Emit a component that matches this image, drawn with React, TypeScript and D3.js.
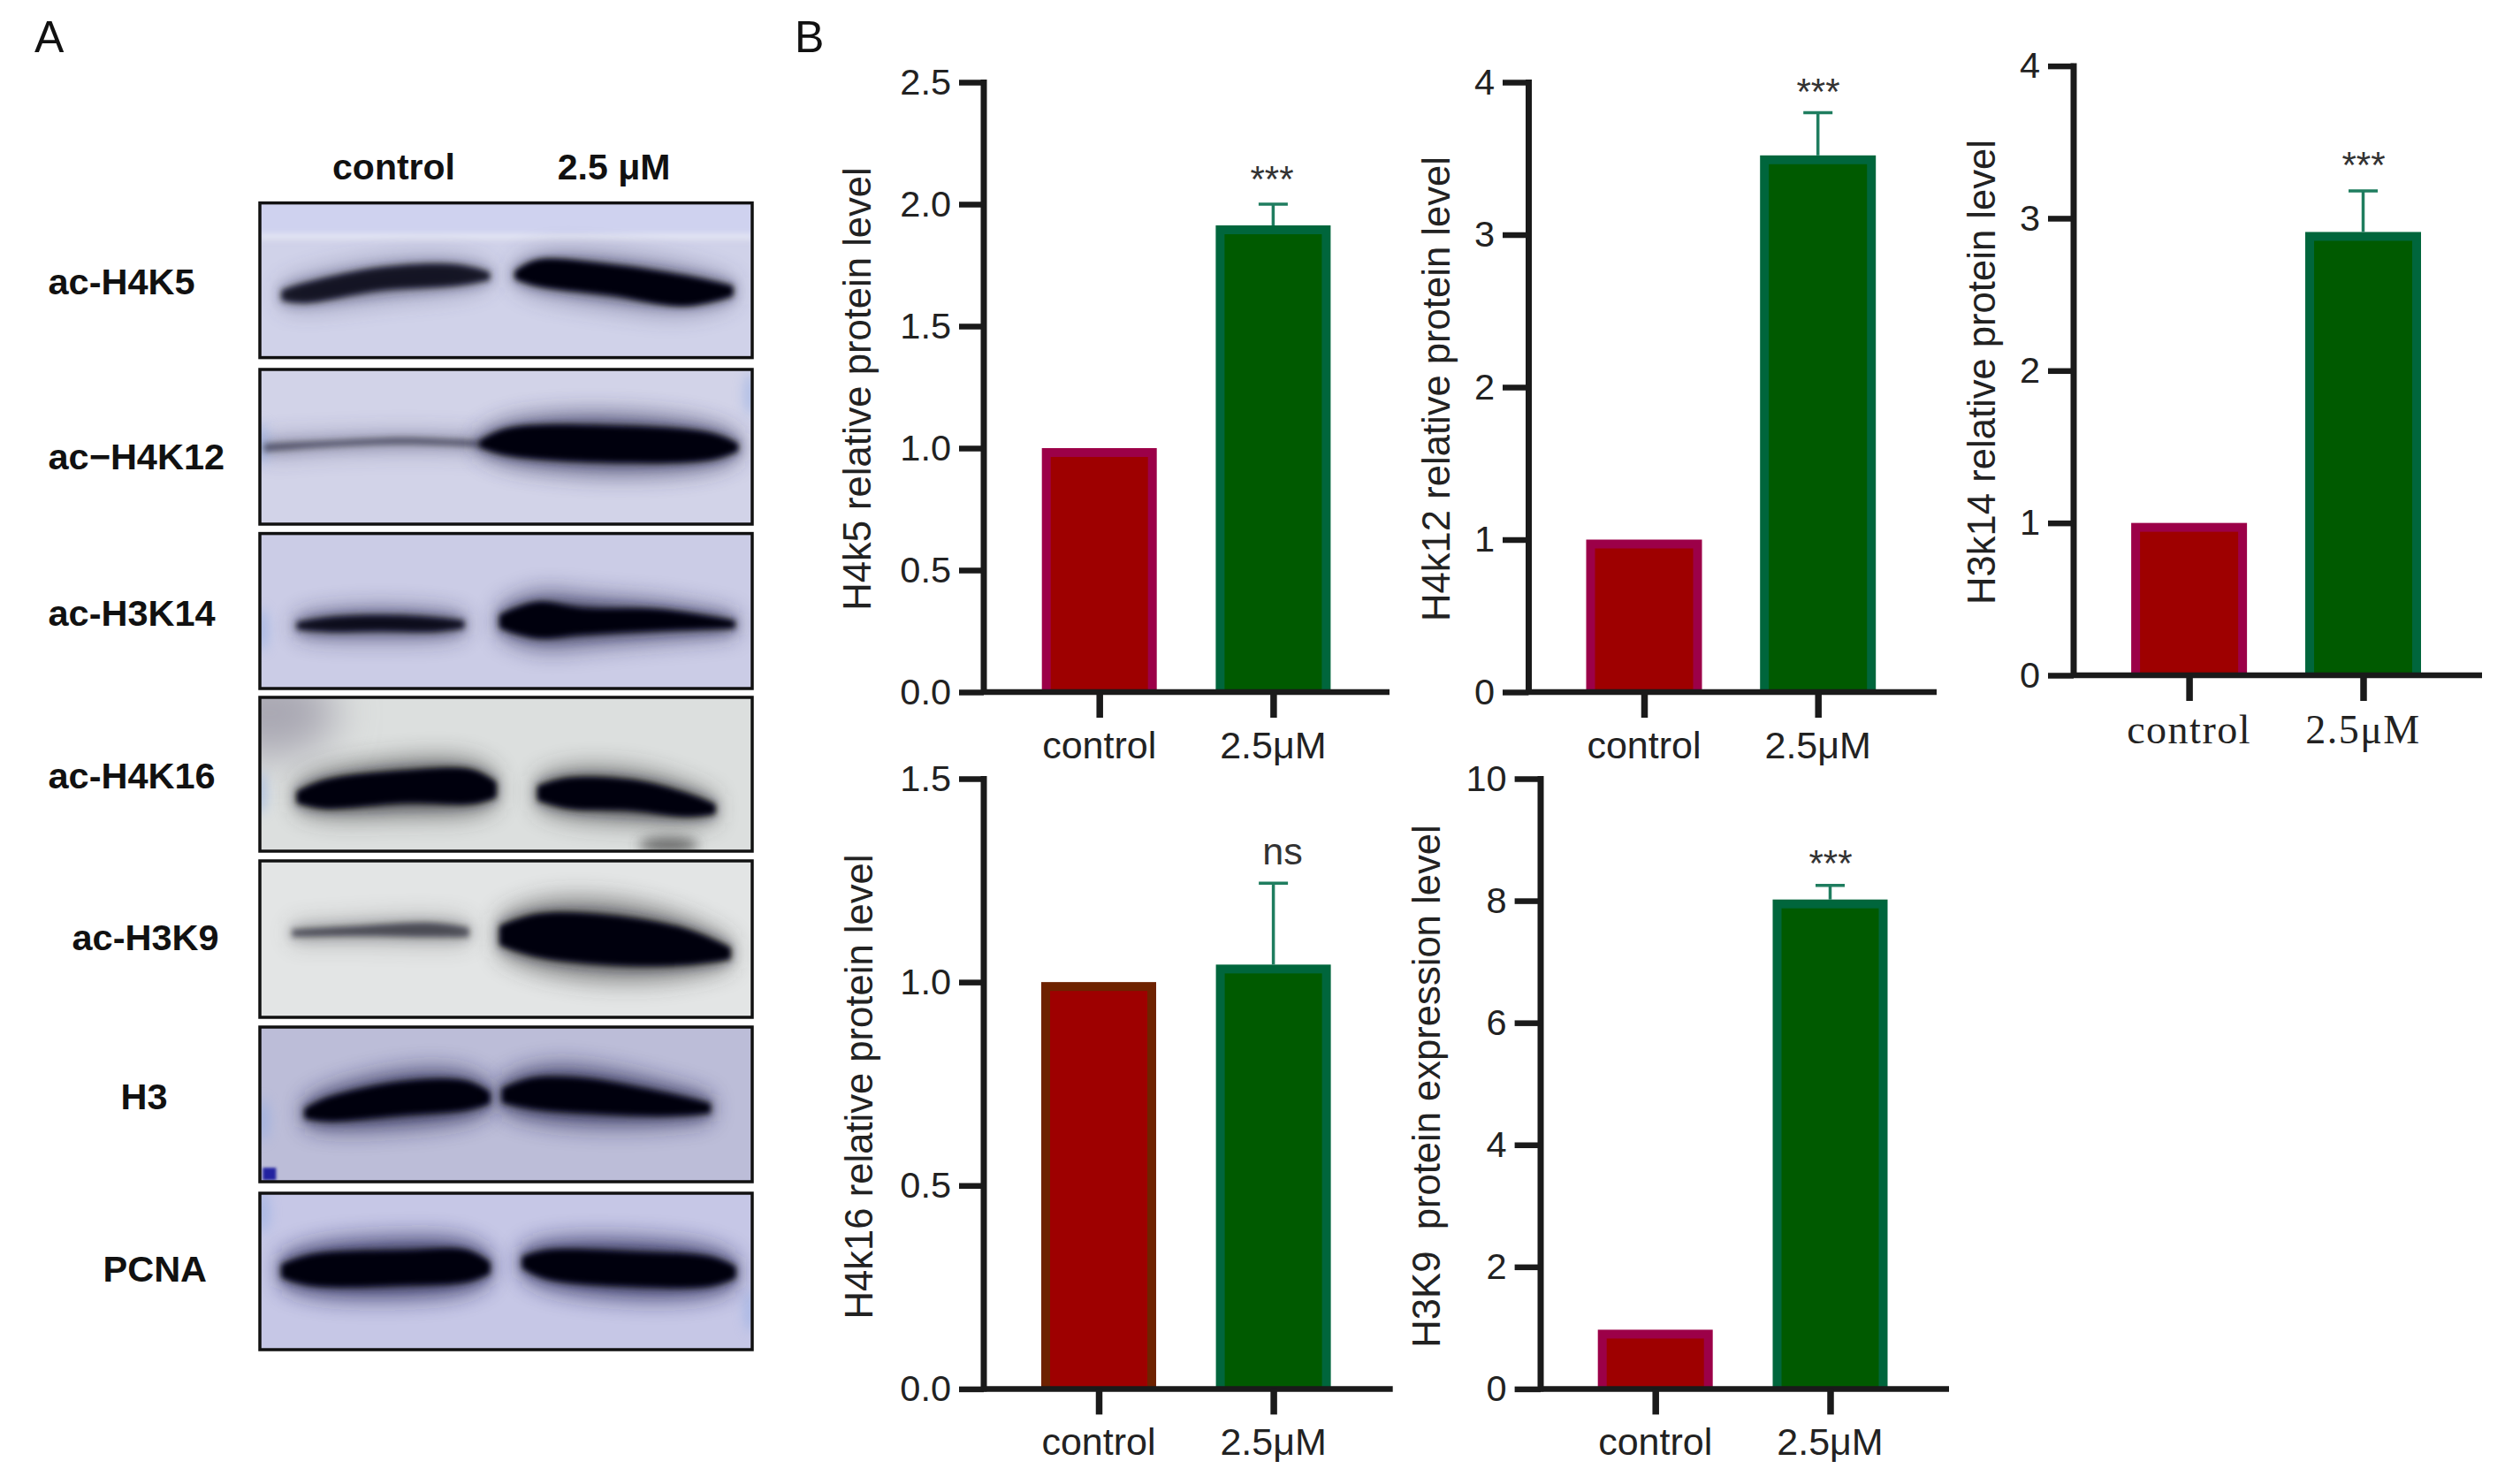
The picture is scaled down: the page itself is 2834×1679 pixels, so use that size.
import React, { useEffect, useRef } from 'react';
import * as d3 from 'd3';

const W = 2834;
const H = 1679;
const SANS = '"Liberation Sans", Arial, sans-serif';
const SERIF = '"Liberation Serif", "Times New Roman", serif';

// bar chart values
const groups = ['control', '2.5μM'];
const h4k5Values = [1.0, 1.913];
const h4k5Error = 2.0;
const h4k12Values = [1.0, 3.52];
const h4k12Error = 3.8;
const h3k14Values = [1.0, 2.91];
const h3k14Error = 3.18;
const h4k16Values = [1.0, 1.043];
const h4k16Error = 1.243;
const h3k9Values = [0.97, 8.02];
const h3k9Error = 8.25;

const ticks25 = [0, 0.5, 1, 1.5, 2, 2.5];
const ticks4 = [0, 1, 2, 3, 4];
const ticks15 = [0, 0.5, 1, 1.5];
const ticks10 = [0, 2, 4, 6, 8, 10];

const panels = [
  { title: 'H4k5 relative protein level', values: h4k5Values, err: h4k5Error, ticks: ticks25, fmt: '.1f', mark: '***',
    axisX: 1113, tickLeft: 1085, xEnd: 1572, top: 93, bottom: 783, gx: [1243.7, 1440.4], barW: 130, titleX: 984.5, titleY: 440, labelY: 858, markX: 1439, markY: 217, redEdge: '#9c0048', font: SANS },
  { title: 'H4k12 relative protein level', values: h4k12Values, err: h4k12Error, ticks: ticks4, fmt: 'd', mark: '***',
    axisX: 1729.5, tickLeft: 1700, xEnd: 2191, top: 93, bottom: 783, gx: [1860, 2056.7], barW: 131, titleX: 1640, titleY: 440, labelY: 858, markX: 2057, markY: 118, redEdge: '#9c0048', font: SANS },
  { title: 'H3k14 relative protein level', values: h3k14Values, err: h3k14Error, ticks: ticks4, fmt: 'd', mark: '***',
    axisX: 2346, tickLeft: 2317, xEnd: 2808, top: 74.6, bottom: 764, gx: [2476.6, 2673.5], barW: 131, titleX: 2256.6, titleY: 421, labelY: 841, markX: 2674, markY: 201, redEdge: '#9c0048', font: SERIF },
  { title: 'H4k16 relative protein level', values: h4k16Values, err: h4k16Error, ticks: ticks15, fmt: '.1f', mark: 'ns',
    axisX: 1113, tickLeft: 1085, xEnd: 1575.7, top: 881, bottom: 1571.4, gx: [1243, 1440.6], barW: 130, titleX: 986.5, titleY: 1229.5, labelY: 1646, markX: 1451, markY: 978, redEdge: '#6e2200', font: SANS },
  { title: 'H3K9  protein expression level', values: h3k9Values, err: h3k9Error, ticks: ticks10, fmt: 'd', mark: '***',
    axisX: 1743, tickLeft: 1713.6, xEnd: 2205, top: 881, bottom: 1571.4, gx: [1872.7, 2070.5], barW: 130, titleX: 1628.6, titleY: 1229, labelY: 1646, markX: 2071, markY: 991, redEdge: '#9c0048', font: SANS },
];

// western blot lanes: [x fraction, y fraction, half thickness fraction] inside each frame
const h4k5Control = [[0.044, 0.598, 0.03], [0.09, 0.583, 0.06], [0.246, 0.49, 0.07], [0.4, 0.466, 0.064], [0.467, 0.472, 0.023]];
const h4k5Treated = [[0.518, 0.466, 0.023], [0.564, 0.452, 0.08], [0.709, 0.496, 0.093], [0.863, 0.569, 0.093], [0.961, 0.569, 0.03]];
const h4k12Control = [[0.008, 0.506, 0.023], [0.131, 0.482, 0.018], [0.296, 0.462, 0.02], [0.451, 0.482, 0.018]];
const h4k12Treated = [[0.446, 0.482, 0.018], [0.503, 0.468, 0.082], [0.709, 0.482, 0.111], [0.915, 0.497, 0.082], [0.971, 0.503, 0.023]];
const h3k14Control = [[0.075, 0.596, 0.023], [0.142, 0.587, 0.044], [0.245, 0.578, 0.047], [0.348, 0.587, 0.044], [0.415, 0.587, 0.023]];
const h3k14Treated = [[0.487, 0.567, 0.04], [0.564, 0.558, 0.11], [0.657, 0.567, 0.08], [0.811, 0.558, 0.064], [0.965, 0.587, 0.023]];
const h4k16Control = [[0.075, 0.65, 0.035], [0.132, 0.63, 0.088], [0.297, 0.581, 0.1], [0.431, 0.581, 0.105], [0.48, 0.601, 0.047]];
const h4k16Treated = [[0.564, 0.623, 0.044], [0.626, 0.623, 0.094], [0.76, 0.638, 0.094], [0.863, 0.698, 0.073], [0.925, 0.727, 0.03]];
const h3k9Control = [[0.065, 0.462, 0.023], [0.194, 0.448, 0.029], [0.348, 0.44, 0.043], [0.425, 0.457, 0.029]];
const h3k9Treated = [[0.487, 0.477, 0.058], [0.564, 0.477, 0.13], [0.709, 0.506, 0.15], [0.863, 0.549, 0.11], [0.956, 0.592, 0.035]];
const h3Control = [[0.091, 0.56, 0.03], [0.142, 0.53, 0.073], [0.297, 0.458, 0.102], [0.42, 0.443, 0.087], [0.467, 0.458, 0.035]];
const h3Treated = [[0.492, 0.443, 0.044], [0.554, 0.429, 0.093], [0.657, 0.443, 0.105], [0.811, 0.496, 0.073], [0.915, 0.525, 0.03]];
const pcnaControl = [[0.044, 0.497, 0.04], [0.111, 0.491, 0.095], [0.297, 0.477, 0.104], [0.42, 0.465, 0.095], [0.467, 0.477, 0.035]];
const pcnaTreated = [[0.533, 0.442, 0.035], [0.585, 0.457, 0.087], [0.76, 0.486, 0.104], [0.915, 0.5, 0.087], [0.966, 0.506, 0.035]];

// pale blue patches at the membrane edges: [x fraction, y fraction]
const h4k12Tints = [[0.003, 0.48], [0.998, 0.16]];
const h3k14Tints = [[0.003, 0.62]];
const h4k16Tints = [[0.0, 0.62]];
const h3Tints = [[0.005, 0.6]];
const pcnaTints = [[0.005, 0.12], [0.998, 0.75]];

const blots = [
  { label: 'ac-H4K5', labelX: 54.5, baseline: 332.6, y0: 229.6, y1: 404.6, bg: '#d0d2e9', glow: '#30305c', glowOp: 0.35, tints: [], lanes: [[h4k5Control, 0.8], [h4k5Treated, 1]] },
  { label: 'ac−H4K12', labelX: 54.5, baseline: 530.6, y0: 418, y1: 593, bg: '#d2d3e8', glow: '#2a2a55', glowOp: 0.6, tints: h4k12Tints, lanes: [[h4k12Control, 0.45], [h4k12Treated, 1]] },
  { label: 'ac-H3K14', labelX: 54.5, baseline: 708, y0: 603.6, y1: 779, bg: '#cbcce6', glow: '#24244e', glowOp: 0.55, tints: h3k14Tints, lanes: [[h3k14Control, 0.85], [h3k14Treated, 1]] },
  { label: 'ac-H4K16', labelX: 54.5, baseline: 891.6, y0: 789, y1: 963, bg: '#dcdfde', glow: '#333', glowOp: 0.5, tints: h4k16Tints, lanes: [[h4k16Control, 1], [h4k16Treated, 1]] },
  { label: 'ac-H3K9', labelX: 81.5, baseline: 1075, y0: 974, y1: 1151, bg: '#e3e5e5', glow: '#333', glowOp: 0.5, tints: [], lanes: [[h3k9Control, 0.5], [h3k9Treated, 1]] },
  { label: 'H3', labelX: 136.6, baseline: 1255, y0: 1162, y1: 1337, bg: '#bcbdd8', glow: '#1e1e4c', glowOp: 0.6, tints: h3Tints, lanes: [[h3Control, 1], [h3Treated, 1]] },
  { label: 'PCNA', labelX: 116.5, baseline: 1450, y0: 1350, y1: 1527, bg: '#c6c7e6', glow: '#1c1c50', glowOp: 0.65, tints: pcnaTints, lanes: [[pcnaControl, 1], [pcnaTreated, 1]] },
];

const FRAME_X0 = 294;
const FRAME_X1 = 851;

function addBlur(defs, id, amount) {
  defs.append('filter').attr('id', id)
    .attr('x', '-100%').attr('y', '-150%').attr('width', '300%').attr('height', '400%')
    .append('feGaussianBlur').attr('stdDeviation', amount);
}

function drawBlots(svg) {
  const defs = svg.append('defs');
  addBlur(defs, 'speckBlur', 1.5);
  addBlur(defs, 'coreBlur', 3.2);
  addBlur(defs, 'midBlur', 7);
  addBlur(defs, 'glowBlur', 13);
  addBlur(defs, 'wideBlur', 24);

  const x = d3.scaleLinear().domain([0, 1]).range([FRAME_X0, FRAME_X1]);

  blots.forEach((b, i) => {
    const y = d3.scaleLinear().domain([0, 1]).range([b.y0, b.y1]);
    const span = b.y1 - b.y0;
    const clipId = `blot-clip-${i}`;
    defs.append('clipPath').attr('id', clipId).append('rect')
      .attr('x', x(0)).attr('y', y(0)).attr('width', x(1) - x(0)).attr('height', span);

    const g = svg.append('g').attr('clip-path', `url(#${clipId})`);
    g.append('rect').attr('x', x(0)).attr('y', y(0)).attr('width', x(1) - x(0)).attr('height', span).attr('fill', b.bg);

    // first blot: pale strip below a slightly bluer top band
    if (i === 0) {
      g.append('rect').attr('x', x(0)).attr('y', y(0)).attr('width', x(1) - x(0)).attr('height', span * 0.22).attr('fill', '#cfd2ef');
      g.append('rect').attr('x', x(0)).attr('y', y(0.2)).attr('width', x(1) - x(0)).attr('height', 6)
        .attr('fill', '#e6e8f4').attr('filter', 'url(#coreBlur)');
    }
    // dark corner on the ac-H4K16 blot, smudge below the right lane
    if (i === 3) {
      g.append('ellipse').attr('cx', x(0.02)).attr('cy', y(0.1)).attr('rx', 75).attr('ry', 50)
        .attr('fill', '#a9a7b2').attr('filter', 'url(#wideBlur)');
      g.append('ellipse').attr('cx', x(0.83)).attr('cy', y(0.96)).attr('rx', 34).attr('ry', 9)
        .attr('fill', '#444').attr('opacity', 0.75).attr('filter', 'url(#midBlur)');
    }
    b.tints.forEach((t) => {
      g.append('ellipse').attr('cx', x(t[0])).attr('cy', y(t[1])).attr('rx', 8).attr('ry', 24)
        .attr('fill', '#8aa8e4').attr('opacity', 0.5).attr('filter', 'url(#midBlur)');
    });
    // blue speck in the corner of the H3 blot
    if (i === 5) {
      g.append('rect').attr('x', x(0.006)).attr('y', y(0.91)).attr('width', 15).attr('height', 14)
        .attr('fill', '#2421a0').attr('filter', 'url(#speckBlur)');
    }

    b.lanes.forEach(([pts, strength]) => {
      const thick = (k, pad) => d3.area().curve(d3.curveBasis)
        .x((d) => x(d[0]))
        .y0((d) => y(d[1]) - d[2] * span * k - pad)
        .y1((d) => y(d[1]) + d[2] * span * k + pad);
      g.append('path').attr('d', thick(1.7, 5)(pts)).attr('fill', b.glow)
        .attr('opacity', b.glowOp * strength).attr('filter', 'url(#glowBlur)');
      g.append('path').attr('d', thick(1.2, 1)(pts)).attr('fill', '#15152c')
        .attr('opacity', 0.55 * strength).attr('filter', 'url(#midBlur)');

      const coreArea = d3.area().curve(d3.curveCatmullRom)
        .x((d) => x(d[0]))
        .y0((d) => y(d[1]) - d[2] * span * 1.05)
        .y1((d) => y(d[1]) + d[2] * span * 1.05);
      g.append('path').attr('d', coreArea(pts)).attr('fill', '#04040c')
        .attr('opacity', strength).attr('filter', 'url(#coreBlur)');
    });

    svg.append('rect').attr('x', x(0)).attr('y', y(0)).attr('width', x(1) - x(0)).attr('height', span)
      .attr('fill', 'none').attr('stroke', '#111').attr('stroke-width', 3.5);

    svg.append('text').attr('x', b.labelX).attr('y', b.baseline)
      .attr('font-family', SANS).attr('font-weight', 700).attr('font-size', 41.5).attr('fill', '#111')
      .text(b.label);
  });

  const header = svg.append('g').attr('font-family', SANS).attr('font-weight', 700).attr('font-size', 41)
    .attr('fill', '#111').attr('text-anchor', 'middle');
  header.append('text').attr('x', 445.5).attr('y', 202.5).text('control');
  header.append('text').attr('x', 694.6).attr('y', 202.5).text('2.5 μM');
}

function drawPanel(svg, p) {
  const g = svg.append('g');
  const y = d3.scaleLinear().domain(d3.extent(p.ticks)).range([p.bottom, p.top]);
  const x = d3.scalePoint().domain(groups).range(p.gx);
  const ink = '#1a1a1a';

  // bars: border colour underneath, fill inset
  const inset = 10;
  const bars = g.selectAll('g.bar').data(p.values).enter().append('g').attr('class', 'bar');
  bars.append('rect')
    .attr('x', (d, i) => x(groups[i]) - p.barW / 2)
    .attr('y', (d) => y(d))
    .attr('width', p.barW)
    .attr('height', (d) => y(0) - y(d))
    .attr('fill', (d, i) => (i === 0 ? p.redEdge : '#00663c'));
  bars.append('rect')
    .attr('x', (d, i) => x(groups[i]) - p.barW / 2 + inset)
    .attr('y', (d) => y(d) + inset)
    .attr('width', p.barW - inset * 2)
    .attr('height', (d) => y(0) - y(d) - inset)
    .attr('fill', (d, i) => (i === 0 ? '#9e0000' : '#005a00'));

  // error bar on the treated group
  const cx = x(groups[1]);
  const errColor = '#1f7d5f';
  g.append('line').attr('x1', cx).attr('x2', cx).attr('y1', y(p.values[1])).attr('y2', y(p.err))
    .attr('stroke', errColor).attr('stroke-width', 3.5);
  g.append('line').attr('x1', cx - 16.5).attr('x2', cx + 16.5).attr('y1', y(p.err)).attr('y2', y(p.err))
    .attr('stroke', errColor).attr('stroke-width', 3.5);

  // y axis
  const yAxis = g.append('g').attr('transform', `translate(${p.axisX},0)`)
    .call(d3.axisLeft(y).tickValues(p.ticks).tickFormat(d3.format(p.fmt)).tickSizeOuter(0).tickSizeInner(p.axisX - p.tickLeft).tickPadding(9));
  yAxis.select('.domain').attr('stroke', ink).attr('stroke-width', 7).attr('d', `M0,${p.top - 3}V${p.bottom + 3}`);
  yAxis.selectAll('.tick line').attr('stroke', ink).attr('stroke-width', 6.5);
  yAxis.selectAll('.tick text').attr('font-family', SANS).attr('font-size', 41.5).attr('fill', '#222');

  // x axis
  const xAxis = g.append('g').attr('transform', `translate(0,${p.bottom})`)
    .call(d3.axisBottom(x).tickSizeOuter(0).tickSizeInner(29).tickPadding(16));
  xAxis.select('.domain').attr('stroke', ink).attr('stroke-width', 6.5).attr('d', `M${p.axisX},0H${p.xEnd}`);
  xAxis.selectAll('.tick line').attr('stroke', ink).attr('stroke-width', 7.5);
  xAxis.selectAll('.tick text').remove();

  groups.forEach((name) => {
    g.append('text').attr('x', x(name)).attr('y', p.labelY).attr('text-anchor', 'middle')
      .attr('font-family', p.font).attr('font-size', p.font === SERIF ? 46 : 43).attr('fill', '#222')
      .attr('letter-spacing', p.font === SERIF ? 1.5 : 0)
      .text(name);
  });

  g.append('text')
    .attr('transform', `translate(${p.titleX},${p.titleY}) rotate(-90)`)
    .attr('text-anchor', 'middle').attr('font-family', SANS).attr('font-size', 43.6).attr('fill', '#222')
    .attr('xml:space', 'preserve').style('white-space', 'pre')
    .text(p.title);

  g.append('text').attr('x', p.markX).attr('y', p.markY).attr('text-anchor', 'middle')
    .attr('font-family', SANS).attr('font-size', p.mark === 'ns' ? 43 : 42).attr('fill', '#333')
    .text(p.mark);
}

const App = () => {
  const ref = useRef<SVGSVGElement>(null);

  useEffect(() => {
    const svg = d3.select(ref.current);
    svg.selectAll('*').remove();

    drawBlots(svg);
    panels.forEach((p) => drawPanel(svg, p));

    const letters = svg.append('g').attr('font-family', SANS).attr('font-size', 50).attr('fill', '#111');
    letters.append('text').attr('x', 39).attr('y', 58.7).text('A');
    letters.append('text').attr('x', 899).attr('y', 58.7).text('B');
  }, []);

  return (
    <svg
      ref={ref}
      width={W}
      height={H}
      viewBox={`0 0 ${W} ${H}`}
      style={{ position: 'absolute', left: 0, top: 0, background: '#fff', display: 'block' }}
    />
  );
};

export default App;
